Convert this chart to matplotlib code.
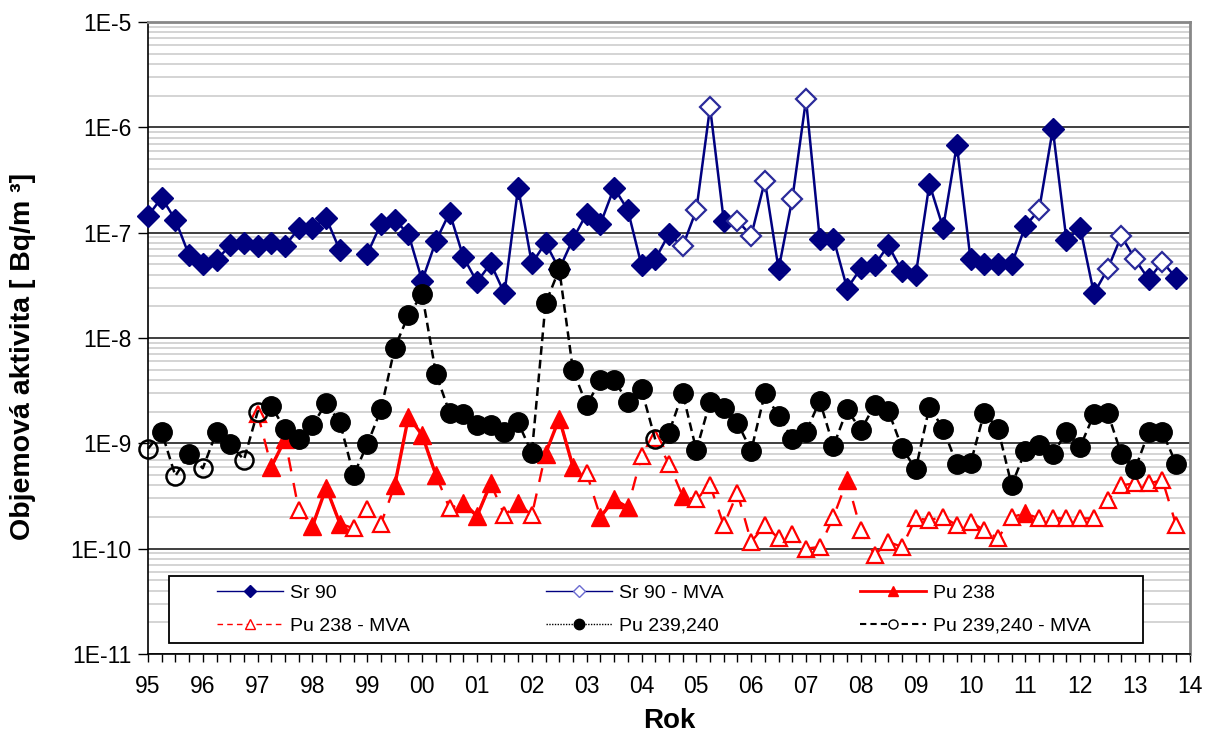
import numpy as np
import matplotlib
matplotlib.use("Agg")
import matplotlib.pyplot as plt
from matplotlib.lines import Line2D
from matplotlib.patches import Rectangle
from matplotlib.ticker import FixedLocator, LogLocator, FuncFormatter

plt.rcParams['font.family'] = ['Liberation Sans', 'DejaVu Sans']

nan = np.nan

# quarterly samples, 1995 Q1 .. 2013 Q4
sr90 = [1.44e-7, 2.15e-7, 1.32e-7, 6.1e-8, 5.0e-8, 5.5e-8, 7.6e-8, 7.9e-8,
        7.5e-8, 7.9e-8, 7.5e-8, 1.1e-7, 1.1e-7, 1.37e-7, 6.8e-8, nan,
        6.3e-8, 1.22e-7, 1.32e-7, 9.7e-8, 3.5e-8, 8.3e-8, 1.55e-7, 5.9e-8,
        3.4e-8, 5.1e-8, 2.65e-8, 2.67e-7, 5.1e-8, 8.0e-8, 4.5e-8, 8.7e-8,
        1.52e-7, 1.21e-7, 2.67e-7, 1.64e-7, 4.9e-8, 5.6e-8, 9.7e-8, 7.4e-8,
        1.64e-7, 1.55e-6, 1.3e-7, 1.3e-7, 9.35e-8, 3.1e-7, 4.5e-8, 2.1e-7,
        1.84e-6, 8.8e-8, 8.8e-8, 2.95e-8, 4.6e-8, 4.9e-8, 7.6e-8, 4.3e-8,
        3.95e-8, 2.9e-7, 1.11e-7, 6.8e-7, 5.6e-8, 5.0e-8, 5.0e-8, 5.0e-8,
        1.16e-7, 1.64e-7, 9.6e-7, 8.5e-8, 1.11e-7, 2.65e-8, 4.5e-8, 9.3e-8,
        5.6e-8, 3.6e-8, 5.3e-8, 3.7e-8]
sr90_mva = [39, 40, 41, 43, 44, 45, 47, 48, 65, 70, 71, 72, 74]

pu238 = [nan, nan, nan, nan, nan, nan, nan, nan,
         1.92e-9, 6.0e-10, 1.09e-9, 2.32e-10, 1.64e-10, 3.8e-10, 1.73e-10, 1.56e-10,
         2.36e-10, 1.73e-10, 4.0e-10, 1.79e-9, 1.2e-9, 5.0e-10, 2.41e-10, 2.72e-10,
         2.04e-10, 4.16e-10, 2.08e-10, 2.69e-10, 2.08e-10, 8.0e-10, 1.72e-9, 6.0e-10,
         5.2e-10, 2.0e-10, 2.93e-10, 2.46e-10, 7.55e-10, 1.12e-9, 6.4e-10, 3.15e-10,
         2.93e-10, 4.0e-10, 1.67e-10, 3.39e-10, 1.16e-10, 1.67e-10, 1.25e-10, 1.39e-10,
         1.0e-10, 1.04e-10, 2.0e-10, 4.47e-10, 1.5e-10, 8.7e-11, 1.16e-10, 1.04e-10,
         1.94e-10, 1.87e-10, 2.0e-10, 1.67e-10, 1.8e-10, 1.5e-10, 1.25e-10, 2.0e-10,
         2.16e-10, 1.94e-10, 1.94e-10, 1.94e-10, 1.94e-10, 1.94e-10, 2.89e-10, 4.0e-10,
         4.17e-10, 4.17e-10, 4.47e-10, 1.67e-10]
pu238_mva = [8, 11, 15, 16, 17, 22, 26, 28, 32, 36, 37, 38, 40, 41, 42, 43, 44,
             45, 46, 47, 48, 49, 50, 52, 53, 54, 55, 56, 57, 58, 59, 60, 61, 62,
             63, 65, 66, 67, 68, 69, 70, 71, 72, 73, 74, 75]

pu239 = [8.9e-10, 1.28e-9, 4.9e-10, 7.9e-10, 5.8e-10, 1.28e-9, 9.8e-10, 7.0e-10,
         2.0e-9, 2.25e-9, 1.36e-9, 1.09e-9, 1.49e-9, 2.4e-9, 1.58e-9, 5.0e-10,
         9.8e-10, 2.1e-9, 8.1e-9, 1.65e-8, 2.6e-8, 4.6e-9, 1.96e-9, 1.92e-9,
         1.49e-9, 1.49e-9, 1.28e-9, 1.58e-9, 8.1e-10, 2.13e-8, 4.5e-8, 4.95e-9,
         2.3e-9, 3.98e-9, 3.98e-9, 2.48e-9, 3.25e-9, 1.09e-9, 1.26e-9, 3.0e-9,
         8.6e-10, 2.48e-9, 2.15e-9, 1.57e-9, 8.5e-10, 3.0e-9, 1.81e-9, 1.11e-9,
         1.28e-9, 2.53e-9, 9.4e-10, 2.1e-9, 1.33e-9, 2.3e-9, 2.04e-9, 9.1e-10,
         5.65e-10, 2.22e-9, 1.38e-9, 6.3e-10, 6.45e-10, 1.96e-9, 1.38e-9, 4.0e-10,
         8.5e-10, 9.6e-10, 7.9e-10, 1.28e-9, 9.3e-10, 1.88e-9, 1.96e-9, 7.9e-10,
         5.7e-10, 1.28e-9, 1.28e-9, 6.35e-10]
pu239_mva = [0, 2, 4, 7, 8, 37]

years = list(range(1995, 2015))
year_labels = ['%02d' % (y % 100) for y in years]

x = 1995 + np.arange(len(sr90)) * 0.25

def split(vals, mva_idx):
    v = np.array(vals, dtype=float)
    m = np.zeros(len(v), bool)
    m[mva_idx] = True
    meas = np.where(m, nan, v)
    est = np.where(m, v, nan)
    return v, meas, est

navy = '#000080'
red = '#ff0000'

fig = plt.figure(figsize=(12.08, 7.36), dpi=100)
ax = fig.add_axes([0.1225, 0.1114, 0.8625, 0.8587])

# Sr 90
v, meas, est = split(sr90, sr90_mva)
ax.plot(x, v, color=navy, lw=1.8, zorder=3, clip_on=False)
ax.plot(x, meas, ls='none', marker='D', ms=11, color=navy, zorder=4, clip_on=False)
ax.plot(x, est, ls='none', marker='D', ms=10.5, mfc='white', mec='#2a2a9a', mew=1.6, zorder=4)

# Pu 238
v, meas, est = split(pu238, pu238_mva)
ax.plot(x, v, color=red, lw=1.7, ls=(0, (6, 5)), zorder=5)
ax.plot(x, meas, color=red, lw=2.4, zorder=5)
ax.plot(x, meas, ls='none', marker='^', ms=13, color=red, zorder=6)
ax.plot(x, est, ls='none', marker='^', ms=12, mfc='white', mec=red, mew=1.6, zorder=6)

# Pu 239,240
v, meas, est = split(pu239, pu239_mva)
ax.plot(x, v, color='black', lw=1.8, ls=(0, (3.5, 2)), zorder=7, clip_on=False)
ax.plot(x, meas, ls='none', marker='o', ms=14, color='black', zorder=8)
ax.plot(x, est, ls='none', marker='o', ms=13, mfc='none', mec='black', mew=1.8, zorder=8,
        clip_on=False)

ax.set_yscale('log')
ax.set_ylim(1e-11, 1e-5)
ax.set_xlim(1995, 2014)

ax.yaxis.set_major_locator(LogLocator(base=10, numticks=10))
ax.yaxis.set_minor_locator(LogLocator(base=10, subs=np.arange(2, 10), numticks=20))
ax.yaxis.set_major_formatter(FuncFormatter(lambda v, p: '1E%d' % round(np.log10(v))))
ax.yaxis.set_minor_formatter(FuncFormatter(lambda v, p: ''))
ax.grid(True, which='minor', axis='y', color='#d4d4d4', lw=1.4, zorder=0)
ax.grid(True, which='major', axis='y', color='#303030', lw=1.3, zorder=1)
ax.set_axisbelow(True)

ax.xaxis.set_major_locator(FixedLocator(years))
ax.set_xticklabels(year_labels)
ax.xaxis.set_minor_locator(FixedLocator(np.arange(1995, 2014.01, 0.25)))

ax.tick_params(axis='x', which='both', direction='out', length=6, width=1, labelsize=16.5, pad=9)
ax.tick_params(axis='y', which='major', direction='out', length=7, width=1, labelsize=16.5, pad=5)
ax.tick_params(axis='y', which='minor', length=0)

for side in ('top', 'right'):
    ax.spines[side].set_color('#888888')
    ax.spines[side].set_linewidth(2)
for side in ('left', 'bottom'):
    ax.spines[side].set_color('black')
    ax.spines[side].set_linewidth(1.2)

ax.set_xlabel('Rok', fontsize=20, fontweight='bold', labelpad=7)
ax.set_ylabel('Objemová aktivita [ Bq/m ³]', fontsize=20.5, fontweight='bold')
ax.yaxis.set_label_coords(-0.107, 0.4715)

handles = [
    Line2D([], [], color=navy, lw=1, marker='D', ms=6.5),
    Line2D([], [], color=red, lw=1, ls=(0, (4, 3)), marker='^', ms=7.5, mfc='white', mec=red),
    Line2D([], [], color=navy, lw=1, marker='D', ms=6.5, mfc='white', mec='#6a6ad0'),
    Line2D([], [], color='black', lw=1, ls=(0, (1, 1)), marker='o', ms=7.5),
    Line2D([], [], color=red, lw=2, marker='^', ms=7.5),
    Line2D([], [], color='black', lw=1.5, ls=(0, (3, 2)), marker='o', ms=6.5, mfc='white', mec='black'),
]
labels = ['Sr 90', 'Pu 238 - MVA', 'Sr 90 - MVA', 'Pu 239,240', 'Pu 238', 'Pu 239,240 - MVA']

leg = fig.legend(handles, labels, loc='upper left', bbox_to_anchor=(217 / 1208, 1 - 584 / 736),
                 ncol=3, frameon=False, fontsize=14, handlelength=3.4, handletextpad=0.36,
                 columnspacing=7.0, labelspacing=0.8, borderpad=0, borderaxespad=0)
leg.set_zorder(10)
fig.patches.append(Rectangle((169 / 1208, 1 - 643 / 736), (1143 - 169) / 1208, 67 / 736,
                             transform=fig.transFigure, fill=True, facecolor='white',
                             edgecolor='black', lw=1.3, zorder=4))

fig.savefig('out.png', dpi=100, facecolor='white')
